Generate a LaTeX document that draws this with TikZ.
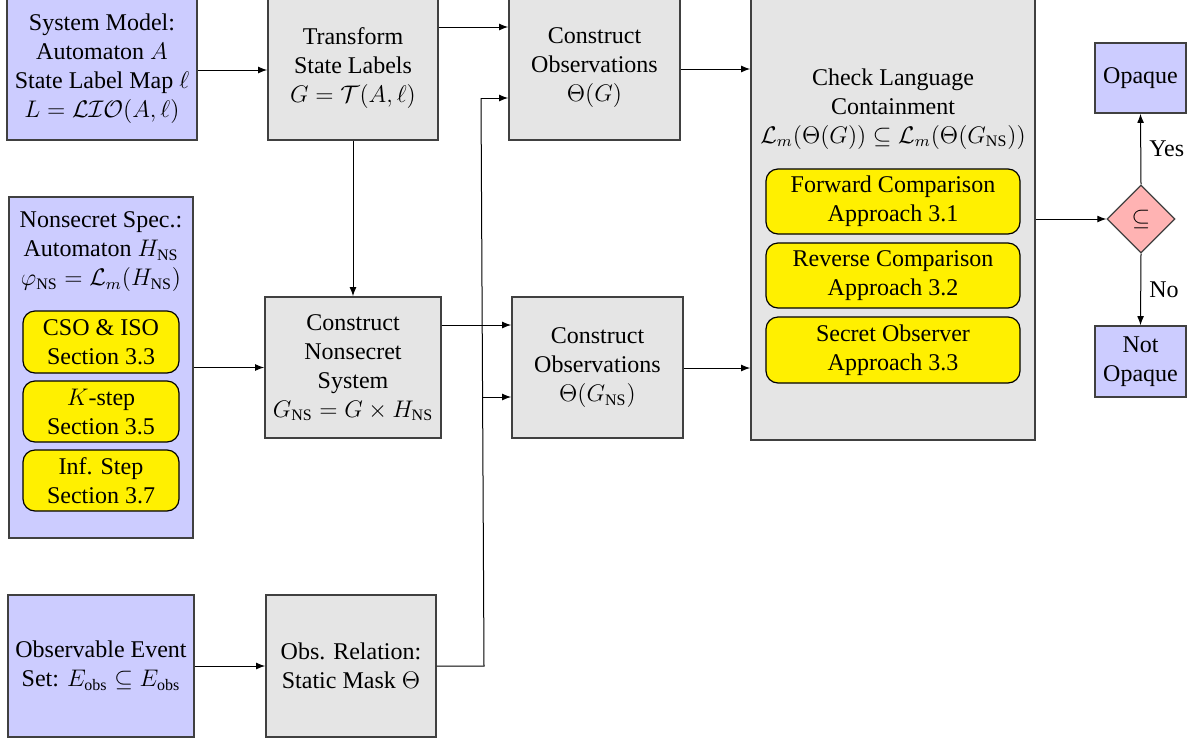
\documentclass[tikz,border=0pt]{standalone}
\usepackage{amsmath}
\usepackage[no-math]{fontspec}
\setmainfont{Liberation Serif}
\usetikzlibrary{arrows.meta,shapes.geometric}

\definecolor{inputblue}{RGB}{204,204,255}
\definecolor{procgray}{RGB}{229,229,229}
\definecolor{methyellow}{RGB}{255,240,0}
\definecolor{decpink}{RGB}{255,179,179}

\tikzset{
  txt/.style={font=\fontsize{12pt}{14.5pt}\selectfont, align=center},
  inbox/.style={txt, draw=black!75, line width=0.8pt, fill=inputblue, inner sep=0pt},
  procbox/.style={txt, draw=black!75, line width=0.8pt, fill=procgray, inner sep=0pt},
  methbox/.style={txt, draw=black, line width=0.6pt, fill=methyellow, rounded corners=6pt, inner sep=0pt},
  decide/.style={txt, diamond, draw=black!75, line width=0.6pt, fill=decpink, inner sep=0pt,
                 minimum width=34pt, minimum height=34pt},
  arr/.style={-{Latex[length=4.5pt,width=3.4pt]}, line width=0.5pt, black},
  wire/.style={line width=0.5pt, black},
}

\begin{document}
\begin{tikzpicture}[x=0.5pt, y=-0.5pt]
\useasboundingbox (0,0) rectangle (1189,740);

% inputs on the left
\node[inbox, minimum width=95pt, minimum height=71pt] (sys) at (102,69)
  {System Model:\\ Automaton $A$\\ State Label Map $\ell$\\ $L=\mathcal{LIO}(A,\ell)$};

\node[inbox, minimum width=92pt, minimum height=170.5pt] (spec) at (101,367.5) {};
\node[txt, inner sep=0pt] (spectitle) at (101,252)
  {Nonsecret Spec.:\\ Automaton $H_{\text{NS}}$\\ $\varphi_{\text{NS}}=\mathcal{L}_m(H_{\text{NS}})$};
\node[methbox, minimum width=78pt, minimum height=31pt] (cso) at (101,342)
  {CSO \& ISO\\ Section 3.3};
\node[methbox, minimum width=78pt, minimum height=30.5pt] (kstep) at (101,411.5)
  {$K$-step\\ Section 3.5};
\node[methbox, minimum width=78pt, minimum height=30.5pt] (infstep) at (101,480.5)
  {Inf. Step\\ Section 3.7};

\node[inbox, minimum width=93pt, minimum height=71pt] (obsset) at (101,666)
  {Observable Event\\ Set: $E_{\text{obs}}\subseteq E_{\text{obs}}$};

% processing steps
\node[procbox, minimum width=85pt, minimum height=72pt] (trans) at (353,68)
  {Transform\\ State Labels\\ $G=\mathcal{T}(A,\ell)$};
\node[procbox, minimum width=88pt, minimum height=70.5pt] (cns) at (353,367.5)
  {Construct\\ Nonsecret\\ System\\ $G_{\text{NS}}=G\times H_{\text{NS}}$};
\node[procbox, minimum width=85pt, minimum height=71pt] (mask) at (351,666)
  {Obs. Relation:\\ Static Mask $\Theta$};

\node[procbox, minimum width=85.5pt, minimum height=72pt] (obs1) at (594.5,68)
  {Construct\\ Observations\\ $\Theta(G)$};
\node[procbox, minimum width=85.5pt, minimum height=70.5pt] (obs2) at (597.5,367.5)
  {Construct\\ Observations\\ $\Theta(G_{\text{NS}})$};

% containment check with its approaches
\node[procbox, minimum width=142pt, minimum height=221pt] (check) at (893,219) {};
\node[txt, inner sep=0pt] (checktitle) at (893,109)
  {Check Language\\ Containment\\ $\mathcal{L}_m(\Theta(G))\subseteq\mathcal{L}_m(\Theta(G_{\text{NS}}))$};
\node[methbox, minimum width=127pt, minimum height=32.5pt] (fwd) at (893,201.5)
  {Forward Comparison\\ Approach 3.1};
\node[methbox, minimum width=127pt, minimum height=32.5pt] (rev) at (893,275.5)
  {Reverse Comparison\\ Approach 3.2};
\node[methbox, minimum width=127pt, minimum height=33pt] (secobs) at (893,350)
  {Secret Observer\\ Approach 3.3};

% decision and verdicts
\node[decide] (dec) at (1141,219) {$\subseteq$};
\node[inbox, minimum width=45.5pt, minimum height=35pt] (opq) at (1140.5,78) {Opaque};
\node[inbox, minimum width=45.5pt, minimum height=35.5pt] (nopq) at (1140.5,361.5) {Not\\ Opaque};

% connectors
\draw[arr] (sys.east |- 0,70) -- (trans.west |- 0,70);
\draw[arr] (trans.east |- 0,27) -- (obs1.west |- 0,27);
\draw[arr] (trans.south) -- (cns.north);
\draw[arr] (spec.east) -- (cns.west);
\draw[arr] (obsset.east) -- (mask.west);
\draw[arr] (cns.east |- 0,325) -- (obs2.west |- 0,325);

\coordinate (mb) at (484,666);
\coordinate (mt) at (481,98);
\coordinate (mm) at (483,397);
\draw[wire] (mask.east) -- (mb) -- (mt);
\draw[arr] (mt) -- (obs1.west |- mt);
\draw[arr] (mm) -- (obs2.west |- mm);

\draw[arr] (obs1.east |- 0,69) -- (check.west |- 0,69);
\draw[arr] (obs2.east |- 0,368) -- (check.west |- 0,368);
\draw[arr] (check.east |- dec) -- (dec.west);
\draw[arr] (dec.north) -- node[txt, right, inner sep=0pt, xshift=4pt] (yes) {Yes} (opq.south);
\draw[arr] (dec.south) -- node[txt, right, inner sep=0pt, xshift=4pt] (no) {No} (nopq.north);
\end{tikzpicture}
\end{document}
